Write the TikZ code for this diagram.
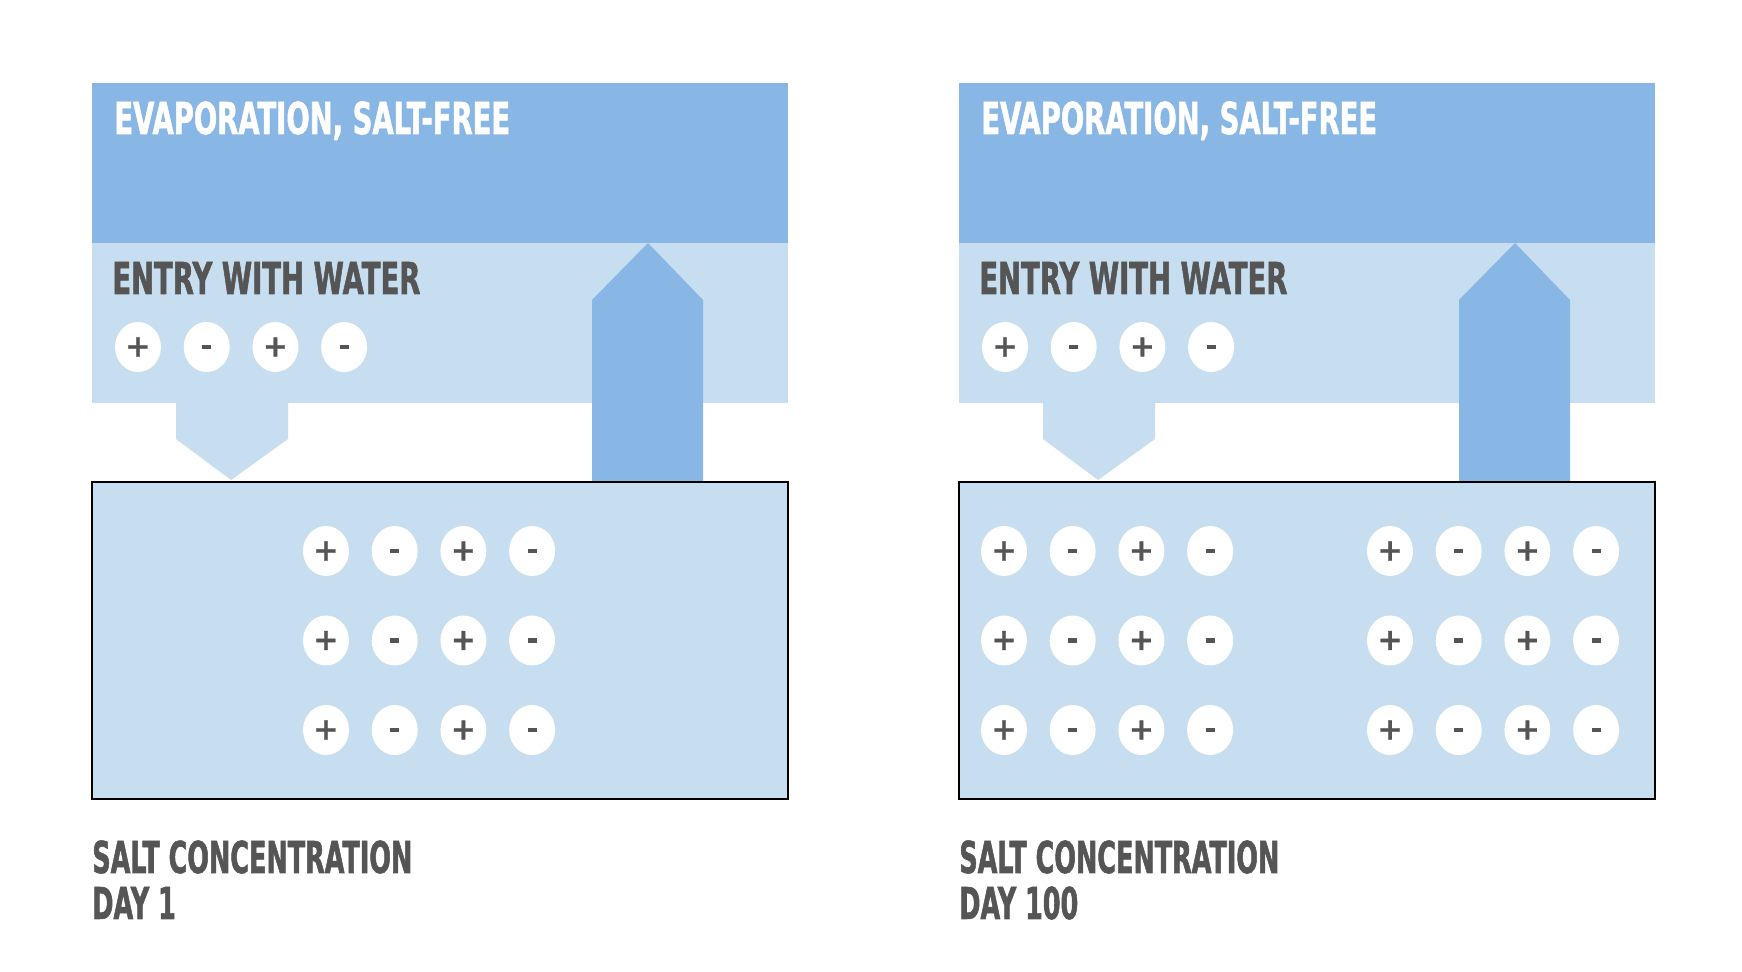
\documentclass[tikz,border=0pt]{standalone}
\usepackage{fontspec}
\newfontfamily\headfont{DejaVu Sans}[FakeStretch=0.625,BoldFeatures={FakeBold=1.2}]
\newfontfamily\footfont{DejaVu Sans}[FakeStretch=0.58,BoldFeatures={FakeBold=1.2}]
\newfontfamily\signfont{DejaVu Sans}[BoldFeatures={FakeBold=1}]
\newcommand{\minusbar}{\rule{0.18cm}{0.085cm}}
\usetikzlibrary{shapes.geometric}
\definecolor{evapblue}{RGB}{136,182,229}
\definecolor{entryblue}{RGB}{198,222,240}
\definecolor{labelgray}{RGB}{85,85,85}

\begin{document}
\begin{tikzpicture}[x=0.02cm,y=-0.02cm,
    head/.style={anchor=base west,inner sep=0,font=\headfont\bfseries\fontsize{25}{30}\selectfont},
    foot/.style={anchor=base west,inner sep=0,text=labelgray,font=\footfont\bfseries\fontsize{25}{30}\selectfont},
    ion/.style={ellipse,fill=white,minimum width=0.92cm,minimum height=1cm,inner sep=0,
      text=labelgray,font=\signfont\bfseries\fontsize{17}{17}\selectfont}]
    \useasboundingbox (0,0) rectangle (1742,972);
    \foreach \p/\ox/\day in {L/0/1,R/867/100} {
        \begin{scope}[shift={(\ox,0)}]
            \fill[evapblue] (92,83) rectangle (788,243);
            \fill[entryblue] (92,243) rectangle (788,403);
            \fill[entryblue] (176,403)--(288,403)--(288,439)--(231,480)--(176,439)--cycle;
            \fill[entryblue] (92,482) rectangle (788,799);
            \fill[evapblue] (592,482)--(592,300)--(648,243)--(703,300)--(703,482)--cycle;
            \draw[line width=1.1pt] (92,482) rectangle (788,799);
            \node[head,text=white] (evap\p) at (114,134) {EVAPORATION, SALT-FREE};
            \node[head,text=labelgray] (entry\p) at (112,294) {ENTRY WITH WATER};
            \node[foot] (salt\p) at (92,873) {SALT CONCENTRATION};
            \node[foot] (day\p) at (92,919) {DAY \day};
            \foreach \s [count=\j] in {+,\minusbar,+,\minusbar} {
            \node[ion] (in\p-\j) at ({138+68.7*(\j-1)},347) {\s};
            }
        \end{scope}
    }
    % day 1: one batch of salt
    \foreach \r in {1,2,3} {
    \foreach \s [count=\j] in {+,\minusbar,+,\minusbar} {
    \node[ion] (poolL-\r-\j) at ({326+68.7*(\j-1)},{551+89.5*(\r-1)}) {\s};
    }
    }
    % day 100: salt has piled up
    \foreach \r in {1,2,3} {
    \foreach \s [count=\j] in {+,\minusbar,+,\minusbar} {
    \node[ion] (poolRa-\r-\j) at ({1004+68.7*(\j-1)},{551+89.5*(\r-1)}) {\s};
    \node[ion] (poolRb-\r-\j) at ({1390+68.7*(\j-1)},{551+89.5*(\r-1)}) {\s};
    }
    }
\end{tikzpicture}
\end{document}
